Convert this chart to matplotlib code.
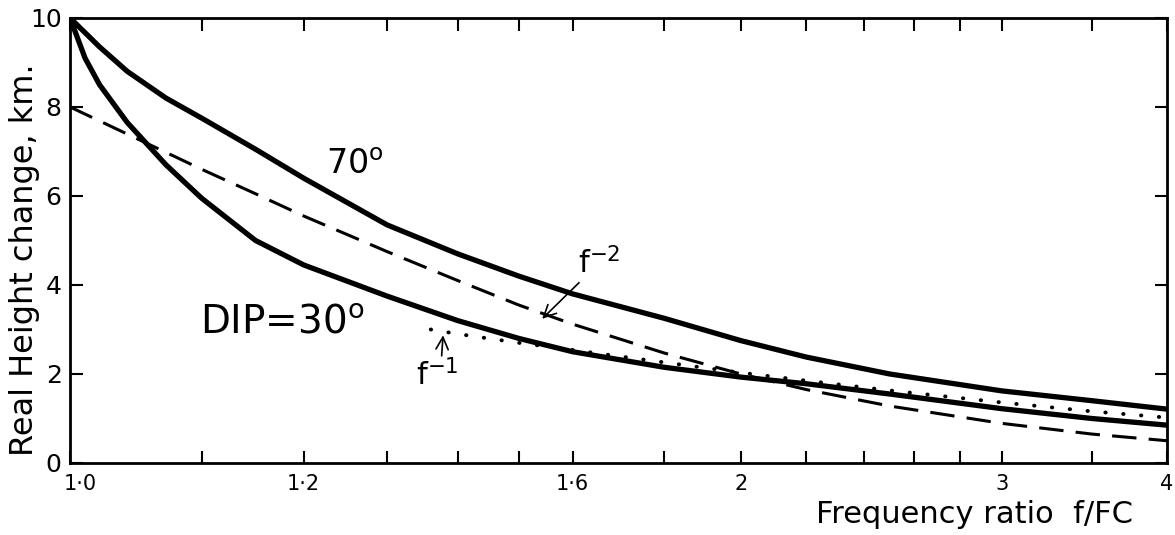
import numpy as np
import matplotlib
matplotlib.use("Agg")
from matplotlib import pyplot as plt
from matplotlib import transforms

plt.rcParams['font.family'] = ['DejaVu Sans']

# frequency ratio f/FC and real height change (km)
f_70 = [1.0, 1.02, 1.04, 1.07, 1.1, 1.15, 1.2, 1.3, 1.4, 1.5, 1.6, 1.8,
        2.0, 2.2, 2.5, 3.0, 3.5, 4.0]
h_70 = [10.0, 9.35, 8.8, 8.2, 7.75, 7.05, 6.4, 5.35, 4.7, 4.2, 3.8, 3.25,
        2.75, 2.38, 2.0, 1.62, 1.4, 1.21]

f_30 = [1.0, 1.01, 1.02, 1.04, 1.07, 1.1, 1.15, 1.2, 1.3, 1.4, 1.5, 1.6,
        1.8, 2.0, 2.2, 2.5, 3.0, 3.5, 4.0]
h_30 = [10.0, 9.1, 8.5, 7.65, 6.7, 5.95, 5.0, 4.45, 3.75, 3.2, 2.8, 2.5,
        2.15, 1.93, 1.78, 1.55, 1.22, 1.0, 0.85]

f_sq = [1.0, 1.05, 1.1, 1.15, 1.2, 1.3, 1.4, 1.5, 1.6, 1.8, 2.0, 2.2,
        2.5, 3.0, 3.5, 4.0]
h_sq = [8.0, 7.25, 6.6, 6.05, 5.55, 4.75, 4.1, 3.55, 3.12, 2.47, 2.0,
        1.65, 1.28, 0.89, 0.65, 0.5]

f_inv = [1.36, 1.4, 1.5, 1.6, 1.8, 2.0, 2.2, 2.5, 3.0, 3.5, 4.0]
h_inv = [3.0, 2.9, 2.7, 2.54, 2.26, 2.03, 1.85, 1.63, 1.36, 1.16, 1.02]

major_ticks = [1.0, 1.2, 1.6, 2.0, 3.0, 4.0]
major_labels = ['1·0', '1·2', '1·6', '2', '3', '4']
minor_ticks = [1.1, 1.3, 1.4, 1.5, 1.8, 2.2, 2.4, 2.6, 2.8, 3.5]
y_ticks = [0, 2, 4, 6, 8, 10]


def fwd(f):
    return np.log(np.clip(np.asarray(f, dtype=float) - 0.7, 1e-6, None))


def inv(u):
    return np.exp(u) + 0.7


fig = plt.figure(figsize=(11.75, 5.35), dpi=100)
ax = fig.add_axes([0.0596, 0.1346, 0.9336, 0.8318])
ax.set_xscale('function', functions=(fwd, inv))

ax.plot(f_70, h_70, color='black', lw=3.8, solid_capstyle='round')
ax.plot(f_30, h_30, color='black', lw=3.8, solid_capstyle='round')
ax.plot(f_sq, h_sq, color='black', lw=2.2, ls=(0, (8, 4)))
ax.plot(f_inv, h_inv, color='black', lw=2.8, ls=(0, (0.1, 4.5)),
        dash_capstyle='round')

ax.set_xlim(1.0, 4.0)
ax.set_ylim(0, 10)

ax.set_xticks(major_ticks)
ax.set_xticklabels(major_labels, fontsize=15)
ax.set_xticks(minor_ticks, minor=True)
ax.set_yticks(y_ticks)
ax.set_yticklabels([str(v) for v in y_ticks], fontsize=18)

ax.tick_params(which='both', direction='in', length=9, width=1.5,
               top=True, right=True, color='black')
ax.tick_params(axis='x', which='major', pad=8)
ax.tick_params(axis='y', which='major', pad=6)
for s in ax.spines.values():
    s.set_linewidth(2.0)

# the first x label sits a little right of the axis in the original
first = ax.get_xticklabels()[0]
first.set_transform(first.get_transform() +
                    transforms.ScaledTranslation(0.1, 0, fig.dpi_scale_trans))

ax.text(1.225, 6.5, r'70$^{\mathregular{o}}$', fontsize=24)
ax.text(1.099, 2.90, r'DIP=30$^{\mathregular{o}}$', fontsize=28)

ax.annotate(r'$\mathregular{f^{-2}}$', xy=(1.542, 3.24), xytext=(1.61, 4.25),
            fontsize=22, va='baseline',
            arrowprops=dict(arrowstyle='->', lw=1.2, color='black',
                            shrinkA=0, shrinkB=0, relpos=(0.1, 0.0)))
ax.annotate(r'$\mathregular{f^{-1}}$', xy=(1.378, 2.87), xytext=(1.339, 1.75),
            fontsize=22, va='baseline',
            arrowprops=dict(arrowstyle='->', lw=1.2, color='black',
                            shrinkA=0, shrinkB=0, relpos=(0.6, 1.0)))

fig.text(0.021, 0.515, 'Real Height change, km.', rotation=90,
         fontsize=23, ha='center', va='center')
fig.text(0.964, 0.022, 'Frequency ratio  f/FC', fontsize=22,
         ha='right', va='baseline')

fig.savefig('out.png', dpi=100)
